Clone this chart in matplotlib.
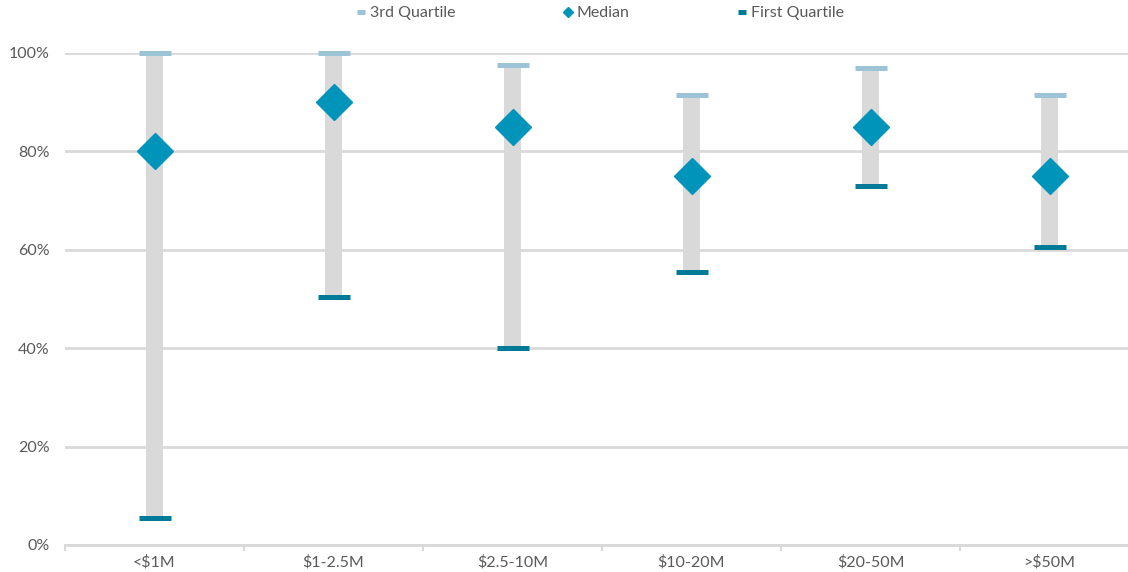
import numpy as np
import matplotlib.pyplot as plt

# Datos del gráfico (porcentajes)
categorias = ['<$1M', '$1-2.5M', '$2.5-10M', '$10-20M', '$20-50M', '>$50M']
tercer_cuartil = [100, 100, 97.5, 91.5, 97, 91.5]
mediana = [80, 90, 85, 75, 85, 75]
primer_cuartil = [5.5, 50.5, 40, 55.5, 73, 60.5]

# Colores
gris = '#d9d9d9'
texto = '#595959'
c_q3 = '#9dc3d7'
c_med = '#0094ba'
c_q1 = '#007a99'

plt.rcParams['font.family'] = ['Lato', 'DejaVu Sans']

fig = plt.figure(figsize=(11.28, 5.72), dpi=100)
ax = fig.add_axes([65 / 1128, 27 / 572, 1074 / 1128, 492 / 572])

x = np.arange(len(categorias))
q1 = np.array(primer_cuartil)
q3 = np.array(tercer_cuartil)

# Barra gris entre cuartiles
ax.bar(x, q3 - q1, bottom=q1, width=0.09, color=gris, zorder=2)

ax.plot(x, q3, linestyle='none', marker='_', markersize=23, markeredgewidth=3.6,
        color=c_q3, label='3rd Quartile', zorder=3, clip_on=False)
ax.plot(x, mediana, linestyle='none', marker='D', markersize=18.5, color=c_med,
        label='Median', zorder=4, clip_on=False)
ax.plot(x, q1, linestyle='none', marker='_', markersize=23, markeredgewidth=3.6,
        color=c_q1, label='First Quartile', zorder=3, clip_on=False)

# Ejes
ax.set_xlim(-0.5, len(categorias) - 0.5)
ax.set_ylim(0, 100)
ax.set_yticks(np.arange(0, 101, 20))
ax.set_yticklabels([f'{v}%' for v in range(0, 101, 20)])
ax.set_xticks(x)
ax.set_xticklabels(categorias)
ax.set_xticks(np.arange(-0.5, len(categorias), 1), minor=True)

ax.grid(axis='y', color=gris, linewidth=2, zorder=0)
ax.set_axisbelow(True)
for s in ['top', 'right', 'left']:
    ax.spines[s].set_visible(False)
ax.spines['bottom'].set_color(gris)
ax.spines['bottom'].set_linewidth(2)

ax.tick_params(axis='y', length=0, pad=11, labelsize=11.5, labelcolor=texto)
ax.tick_params(axis='x', which='major', length=0, pad=7, labelsize=11.5, labelcolor=texto)
ax.tick_params(axis='x', which='minor', length=4, width=1.5, color=gris)

leg = ax.legend(loc='lower center', bbox_to_anchor=(0.497, 1.05), ncol=3, frameon=False,
                fontsize=11.5, columnspacing=6.6, handletextpad=0.1, markerscale=0.28,
                handlelength=0.9, borderpad=0)
for t in leg.get_texts():
    t.set_color(texto)

fig.savefig('out.png', dpi=100)
